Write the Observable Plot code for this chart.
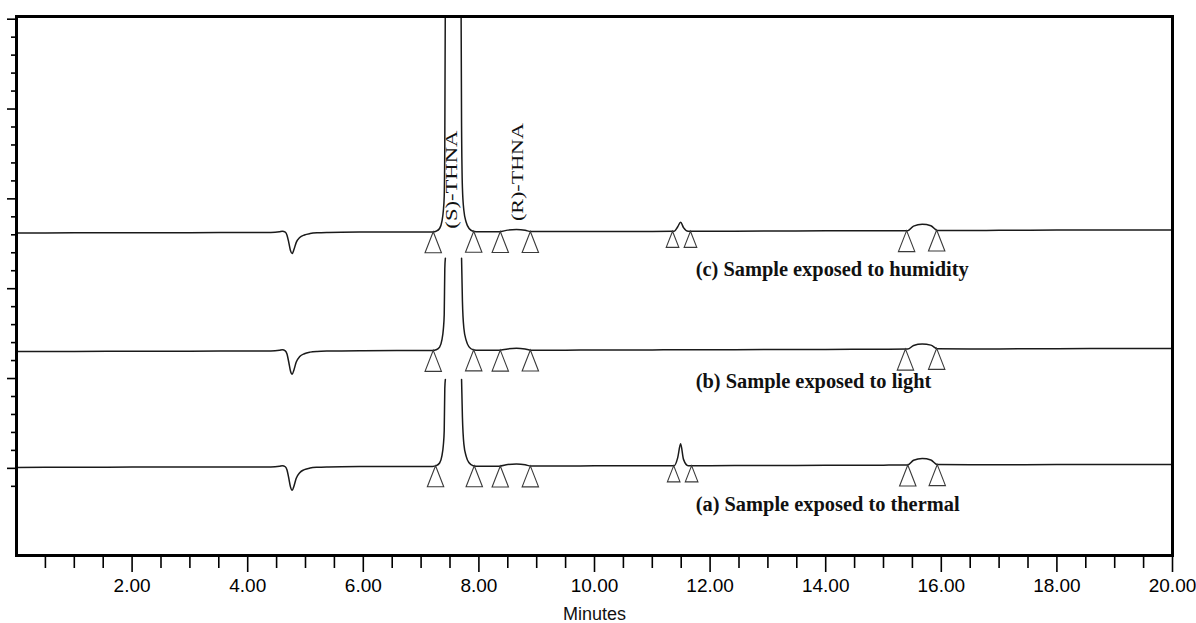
<!DOCTYPE html>
<html>
<head>
<meta charset="utf-8">
<script src="https://cdn.jsdelivr.net/npm/d3@7"></script>
<script src="https://cdn.jsdelivr.net/npm/@observablehq/plot@0.6"></script>
<style>
  html, body { margin: 0; padding: 0; background: #fff; }
  #chart svg { display: block; }
</style>
</head>
<body>
<div id="chart"></div>
<script>
// ---- Data ----
const minutes = [0, 1, 2, 3, 4, 4.4, 4.55, 4.6, 4.65, 4.68, 4.71, 4.74, 4.77, 4.8, 4.84, 4.9, 4.98, 5.08, 5.2, 5.4, 6, 7, 7.2, 7.26, 7.32, 7.36, 7.385, 7.4, 7.41, 7.42, 7.44, 7.555, 7.67, 7.69, 7.7, 7.715, 7.74, 7.78, 7.83, 7.9, 8, 8.35, 8.5, 8.65, 8.8, 8.9, 9.5, 10, 11, 11.38, 11.44, 11.49, 11.54, 11.62, 12, 13, 14, 15, 15.42, 15.52, 15.67, 15.82, 15.93, 16.5, 17, 18, 19, 20];

// (c) humidity
const humidity = [0, 0.01, 0.02, 0.02, 0.03, 0.03, 0.07, 0.1, 0.05, -0.12, -0.52, -0.97, -1.14, -0.92, -0.52, -0.25, -0.11, -0.03, 0.01, 0.03, 0.05, 0.06, 0.06, 0.1, 0.25, 0.65, 1.25, 2.05, 5, 14, 40, 200, 40, 14, 6, 2.5, 1.25, 0.6, 0.25, 0.1, 0.07, 0.07, 0.16, 0.19, 0.15, 0.08, 0.08, 0.09, 0.09, 0.1, 0.35, 0.6, 0.3, 0.1, 0.1, 0.11, 0.12, 0.13, 0.13, 0.38, 0.48, 0.4, 0.14, 0.14, 0.15, 0.16, 0.17, 0.17];

// (b) light (main peak display clipped below trace c)
const light = [0, 0.01, 0.02, 0.02, 0.03, 0.03, 0.07, 0.1, 0.04, -0.14, -0.58, -1.08, -1.26, -1.02, -0.58, -0.28, -0.12, -0.03, 0.01, 0.03, 0.05, 0.06, 0.06, 0.1, 0.25, 0.65, 1.25, 2.05, 4.6, 5.2, null, null, null, null, 5.2, 2.8, 1.3, 0.62, 0.26, 0.1, 0.07, 0.07, 0.15, 0.18, 0.14, 0.08, 0.08, 0.09, 0.09, 0.1, 0.1, 0.1, 0.1, 0.1, 0.1, 0.11, 0.12, 0.13, 0.14, 0.34, 0.42, 0.36, 0.16, 0.15, 0.15, 0.16, 0.17, 0.17];

// (a) thermal (main peak display clipped below trace b)
const thermal = [0, 0.01, 0.02, 0.02, 0.03, 0.03, 0.07, 0.1, 0.04, -0.14, -0.58, -1.08, -1.27, -1.04, -0.6, -0.29, -0.12, -0.03, 0.01, 0.03, 0.05, 0.06, 0.06, 0.1, 0.25, 0.65, 1.25, 2.05, 4.4, 4.9, null, null, null, null, 4.9, 2.8, 1.3, 0.62, 0.26, 0.1, 0.07, 0.07, 0.16, 0.19, 0.15, 0.08, 0.08, 0.09, 0.09, 0.1, 0.55, 1.32, 0.45, 0.1, 0.1, 0.11, 0.12, 0.13, 0.14, 0.4, 0.5, 0.42, 0.16, 0.15, 0.15, 0.16, 0.17, 0.17];

const traceNames = ["(c) Sample exposed to humidity", "(b) Sample exposed to light", "(a) Sample exposed to thermal"];
const traceOffsets = [18.1, 11.5, 5.05];
const traceLabelValues = [15.68, 9.5, 2.6];

const peakNames = ["(S)-THNA", "(R)-THNA"];
const peakLabelMinutes = [7.54, 8.67];
const peakLabelValues = [21.07, 21.49];

// integration markers (minutes) per trace
const mainMarkers = [
  [7.21, 7.91, 8.37, 8.89, 15.40, 15.92],
  [7.21, 7.91, 8.37, 8.89, 15.38, 15.92],
  [7.25, 7.92, 8.37, 8.89, 15.42, 15.93]
];
const minorMarkers = [[11.35, 11.66], [], [11.37, 11.68]];

const xMajorTicks = [2, 4, 6, 8, 10, 12, 14, 16, 18, 20];
const xMinorTicks = [0.5, 1, 1.5, 2.5, 3, 3.5, 4.5, 5, 5.5, 6.5, 7, 7.5, 8.5, 9, 9.5, 10.5, 11, 11.5, 12.5, 13, 13.5, 14.5, 15, 15.5, 16.5, 17, 17.5, 18.5, 19, 19.5];
const yMajorTicks = [5, 10, 15, 20, 25, 30];
const yMinorTicks = [4, 6, 7, 8, 9, 11, 12, 13, 14, 16, 17, 18, 19, 21, 22, 23, 24, 26, 27, 28, 29];
const xLabel = "Minutes";

// ---- Build tables ----
const series = [humidity, light, thermal];
const rows = [];
series.forEach((vals, k) => {
  minutes.forEach((t, i) => {
    rows.push({trace: k, t, v: vals[i] == null ? NaN : vals[i] + traceOffsets[k]});
  });
});

function valueAt(k, t) {
  const vals = series[k];
  const i = d3.bisectRight(minutes, t);
  const i0 = Math.max(0, i - 1), i1 = Math.min(minutes.length - 1, i);
  const t0 = minutes[i0], t1 = minutes[i1];
  const f = t1 === t0 ? 0 : (t - t0) / (t1 - t0);
  return (vals[i0] + (vals[i1] - vals[i0]) * f) + traceOffsets[k];
}

const mainMarkerRows = [], minorMarkerRows = [];
mainMarkers.forEach((ts, k) => ts.forEach(t => mainMarkerRows.push({t, v: valueAt(k, t)})));
minorMarkers.forEach((ts, k) => ts.forEach(t => minorMarkerRows.push({t, v: valueAt(k, t)})));

const labelRows = traceNames.map((name, i) => ({name, v: traceLabelValues[i]}));
const peakRows = peakNames.map((name, i) => ({name, t: peakLabelMinutes[i], v: peakLabelValues[i]}));

// isosceles triangle with apex at the anchor point
const apexTriangle = {
  draw(ctx, size) {
    const r = Math.sqrt(size / Math.PI);
    ctx.moveTo(0, 0);
    ctx.lineTo(0.82 * r, 2.1 * r);
    ctx.lineTo(-0.82 * r, 2.1 * r);
    ctx.closePath();
  }
};

const serif = "'Liberation Serif', 'Times New Roman', serif";

const svg = Plot.plot({
  width: 1196,
  height: 623,
  marginLeft: 16,
  marginRight: 24,
  marginTop: 16,
  marginBottom: 68,
  style: {background: "#fff", color: "#000", fontFamily: "'Liberation Sans', Arial, sans-serif", fontSize: "19px", overflow: "visible"},
  x: {domain: [0, 20], axis: null},
  y: {domain: [0.15, 30.15], axis: null},
  marks: [
    Plot.line(rows, {x: "t", y: "v", z: "trace", stroke: "#1a1a1a", strokeWidth: 1.5, curve: "monotone-x", clip: true}),
    Plot.dot(mainMarkerRows, {x: "t", y: "v", symbol: apexTriangle, r: 10, fill: "none", stroke: "#3a3a3a", strokeWidth: 1.1}),
    Plot.dot(minorMarkerRows, {x: "t", y: "v", symbol: apexTriangle, r: 7.7, fill: "none", stroke: "#3a3a3a", strokeWidth: 1.1}),
    Plot.text(labelRows, {x: () => 11.75, y: "v", text: "name", textAnchor: "start", lineAnchor: "bottom", fontFamily: serif, fontWeight: "bold", fontSize: 20.4, fill: "#111"}),
    Plot.text(peakRows, {x: "t", y: "v", text: "name", rotate: -90, textAnchor: "middle", lineAnchor: "middle", fontFamily: serif, fontSize: 16, fill: "#111"}),
    Plot.axisX({ticks: xMinorTicks, tickSize: 13, fill: "none", strokeWidth: 1.6}),
    Plot.axisX({ticks: xMajorTicks, tickSize: 17, tickPadding: 6, tickFormat: d => d.toFixed(2), fontSize: 19, strokeWidth: 1.6, label: null}),
    Plot.axisY({ticks: yMinorTicks, tickSize: 5, fill: "none", strokeWidth: 1.6}),
    Plot.axisY({ticks: yMajorTicks, tickSize: 9, fill: "none", strokeWidth: 1.6}),
    Plot.text([xLabel], {frameAnchor: "bottom", dy: 59, lineAnchor: "middle", fontSize: 18, fill: "#111"}),
    Plot.frame({stroke: "#000", strokeWidth: 3})
  ]
});

d3.select(svg).selectAll("text")
  .filter(function() { return this.textContent.endsWith("THNA"); })
  .attr("textLength", 98)
  .attr("lengthAdjust", "spacingAndGlyphs");

document.getElementById("chart").appendChild(svg);
</script>
</body>
</html>
